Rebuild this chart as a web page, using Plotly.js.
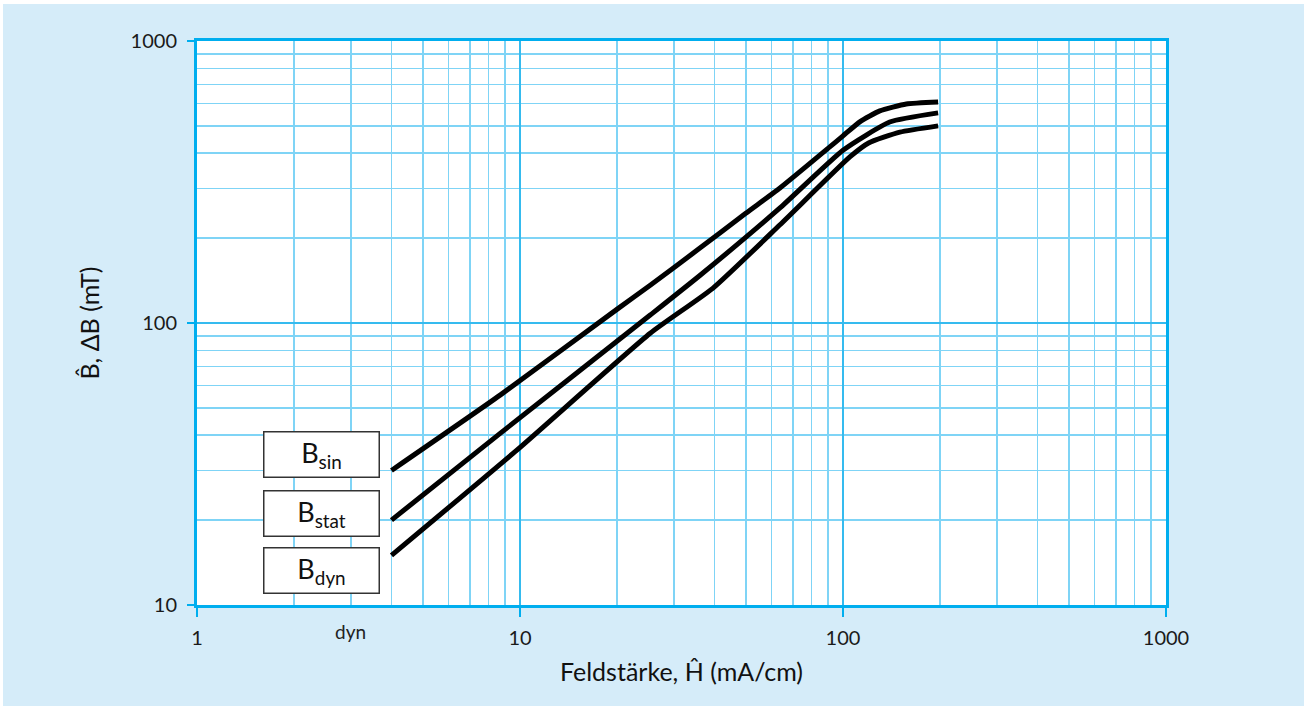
<!DOCTYPE html>
<html>
<head>
<meta charset="utf-8">
<script src="https://cdn.plot.ly/plotly-3.0.1.min.js"></script>
<style>
html,body{margin:0;padding:0;background:#ffffff;width:1304px;height:706px;overflow:hidden;}
#plot{position:absolute;top:4px;left:3px;width:1301px;height:702px;}
</style>
</head>
<body>
<div id="plot"></div>
<script>
// Feldstärke H (mA/cm) and flux density B (mT)
const hSin  = [4, 8.7, 20, 25.3, 35.3, 50, 63.8, 91, 100, 113, 130, 157, 197];
const bSin  = [30, 55.6, 112, 136, 181, 245, 301, 421, 461, 518, 565, 598, 608];
const hStat = [4, 8.7, 25.3, 36.2, 63.8, 100, 139.5, 197];
const bStat = [20, 40.7, 106.7, 148, 256, 410, 516, 556];
const hDyn  = [4, 9.8, 25.3, 39.6, 63.8, 105, 120, 150, 197];
const bDyn  = [15, 35.5, 92, 133, 223, 388, 435, 475, 500];
const seriesLabels = ['B<sub>sin</sub>', 'B<sub>stat</sub>', 'B<sub>dyn</sub>'];
const xTickVals = [1, 10, 100, 1000];
const yTickVals = [10, 100, 1000];

const FONT = 'Lato, "Noto Sans", sans-serif';
const lineStyle = {color: '#000000', width: 5, shape: 'spline', smoothing: 0.5};

const traces = [
  {x: hSin, y: bSin, name: 'B sin'},
  {x: hStat, y: bStat, name: 'B stat'},
  {x: hDyn, y: bDyn, name: 'B dyn'}
].map(t => Object.assign(t, {type: 'scatter', mode: 'lines', line: lineStyle, hoverinfo: 'skip'}));

const boxY = [0.266, 0.163, 0.061];
const annotations = seriesLabels.map((txt, i) => ({
  xref: 'paper', yref: 'paper', x: 0.1285, y: boxY[i],
  xanchor: 'center', yanchor: 'middle',
  text: txt, showarrow: false,
  font: {family: FONT, size: 27, color: '#111111'},
  bgcolor: '#ffffff', bordercolor: '#333333', borderwidth: 1.5, borderpad: 0,
  width: 114, height: 44, align: 'center', valign: 'middle'
}));
annotations.push({
  xref: 'paper', yref: 'paper', x: (350 - 197) / 969, y: (605 - 631) / 564,
  xanchor: 'center', yanchor: 'middle', showarrow: false,
  text: 'dyn', font: {family: FONT, size: 19, color: '#222222'}
});

const axisCommon = {
  type: 'log',
  showline: true, linecolor: '#00aeef', linewidth: 3, mirror: true,
  ticks: 'outside', tickcolor: '#00aeef', tickwidth: 2,
  showgrid: true, gridcolor: '#35bbef', gridwidth: 1.5,
  minor: {dtick: 'D1', showgrid: true, gridcolor: '#7fd4f6', gridwidth: 1.5, ticks: ''},
  zeroline: false,
  tickfont: {family: FONT, size: 20, color: '#1a1a1a'},
  fixedrange: true
};

const layout = {
  width: 1301, height: 702,
  margin: {l: 194, r: 138, t: 37, b: 101},
  paper_bgcolor: '#d5ecf9', plot_bgcolor: '#ffffff',
  showlegend: false,
  xaxis: Object.assign({}, axisCommon, {
    range: [0, 3], tickvals: xTickVals, ticktext: xTickVals.map(String),
    ticklen: 9, ticklabelstandoff: 4,
    title: {text: 'Feldstärke, Ĥ (mA/cm)', font: {family: FONT, size: 25, color: '#111111'}, standoff: 16}
  }),
  yaxis: Object.assign({}, axisCommon, {
    range: [1, 3], tickvals: yTickVals, ticktext: yTickVals.map(String),
    ticklen: 7, ticklabelstandoff: 6,
    title: {text: 'B\u0302, \u0394B (mT)', font: {family: FONT, size: 25, color: '#111111'}, standoff: 24}
  }),
  annotations: annotations
};

Plotly.newPlot('plot', traces, layout, {displayModeBar: false, staticPlot: true});
</script>
</body>
</html>
